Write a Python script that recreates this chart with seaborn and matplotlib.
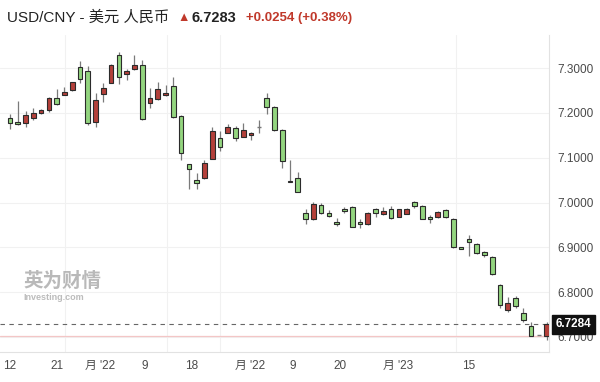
import numpy as np
import pandas as pd
import matplotlib
matplotlib.use("Agg")
import matplotlib.pyplot as plt
import seaborn as sns

# daily OHLC (USD/CNY)
opens = [7.1893, 7.1804, 7.1768, 7.1879, 7.1991, 7.2065, 7.2339, 7.2406, 7.2504, 7.3018,
         7.2942, 7.1804, 7.2422, 7.2674, 7.3292, 7.2862, 7.2973, 7.3076, 7.2228, 7.2310,
         7.2406, 7.2600, 7.1931, 7.0853, 7.0496, 7.0540, 7.0971, 7.1446, 7.1551, 7.1663,
         7.1469, 7.1513, 7.1679, 7.2333, 7.2138, 7.1618, 7.0487, 7.0554, 6.9772, 6.9638,
         6.9951, 6.9759, 6.9571, 6.9862, 6.9906, 6.9558, 6.9513, 6.9855, 6.9737, 6.9855,
         6.9683, 6.9750, 7.0011, 6.9929, 6.9670, 6.9670, 6.9839, 6.9625, 6.9013, 6.9179,
         6.9067, 6.8888, 6.8790, 6.8158, 6.7600, 6.7862, 6.7540, 6.7250, 6.7042, 6.7029]
closes = [7.1768, 7.1752, 7.1946, 7.1998, 7.2058, 7.2339, 7.2192, 7.2460, 7.2683, 7.2750,
          7.1768, 7.2288, 7.2556, 7.3076, 7.2795, 7.2942, 7.3062, 7.1857, 7.2326, 7.2533,
          7.2451, 7.1902, 7.1112, 7.0748, 7.0442, 7.0882, 7.1596, 7.1246, 7.1679, 7.1446,
          7.1618, 7.1551, 7.1679, 7.2138, 7.1618, 7.0926, 7.0451, 7.0228, 6.9632, 6.9967,
          6.9759, 6.9699, 6.9520, 6.9810, 6.9460, 6.9513, 6.9759, 6.9759, 6.9804, 6.9647,
          6.9848, 6.9862, 6.9922, 6.9638, 6.9625, 6.9788, 6.9670, 6.9000, 6.8973, 6.9112,
          6.8879, 6.8828, 6.8404, 6.7712, 6.7763, 6.7690, 6.7377, 6.7020, 6.7042, 6.7283]
highs = [7.1969, 7.2266, 7.2049, 7.2103, 7.2080, 7.2362, 7.2533, 7.2585, 7.2696, 7.3158,
         7.3047, 7.2438, 7.2674, 7.3092, 7.3353, 7.2980, 7.3292, 7.3181, 7.2549, 7.2696,
         7.2623, 7.2795, 7.1946, 7.0853, 7.0652, 7.0949, 7.1679, 7.1596, 7.1752, 7.1708,
         7.1768, 7.1580, 7.1848, 7.2451, 7.2154, 7.1634, 7.0949, 7.0688, 6.9848, 7.0018,
         6.9982, 6.9833, 6.9647, 6.9906, 6.9922, 6.9625, 6.9795, 6.9884, 6.9906, 6.9922,
         6.9862, 6.9877, 7.0033, 6.9944, 6.9721, 6.9810, 6.9855, 6.9647, 6.9013, 6.9275,
         6.9089, 6.8924, 6.8806, 6.8174, 6.7884, 6.7906, 6.7638, 6.7339, 6.7042, 6.7339]
lows = [7.1634, 7.1730, 7.1679, 7.1842, 7.1969, 7.2013, 7.2176, 7.2393, 7.2489, 7.2674,
        7.1737, 7.1692, 7.2250, 7.2661, 7.2638, 7.2734, 7.2958, 7.1842, 7.2103, 7.2288,
        7.2384, 7.1879, 7.0949, 7.0295, 7.0295, 7.0525, 7.0964, 7.1156, 7.1545, 7.1379,
        7.1455, 7.1388, 7.1545, 7.1975, 7.1603, 7.0763, 7.0451, 7.0228, 6.9513, 6.9609,
        6.9737, 6.9670, 6.9475, 6.9759, 6.9453, 6.9424, 6.9498, 6.9683, 6.9721, 6.9625,
        6.9670, 6.9737, 6.9871, 6.9625, 6.9542, 6.9654, 6.9654, 6.8978, 6.8973, 6.8806,
        6.8850, 6.8777, 6.8382, 6.7638, 6.7563, 6.7652, 6.7339, 6.7020, 6.7042, 6.6931]

x_tick_pos = [0, 6.0, 11.57, 17.27, 23.36, 30.86, 36.35, 42.43, 49.92, 59.0]
x_tick_labels = ["12", "21", "月 '22", "9", "18", "月 '22", "9", "20", "月 '23", "15"]
x_grid_pos = [7.07, 20.15, 27.0, 57.4]
y_ticks = [6.7, 6.8, 6.9, 7.0, 7.1, 7.2, 7.3]

last_quote = 6.7284
prev_close = 6.7029
title = "USD/CNY - 美元 人民币"
price_txt = "6.7283"
change_txt = "+0.0254 (+0.38%)"

UP = "#b4403a"
DOWN = "#93d57f"
EDGE = "#2b2b2b"

sns.set_style("white")
plt.rcParams["font.family"] = ["Liberation Sans", "Noto Sans CJK SC", "DejaVu Sans"]

df = pd.DataFrame({"open": opens, "high": highs, "low": lows, "close": closes})
df["i"] = np.arange(len(df))
df["lo"] = df[["open", "close"]].min(axis=1)
df["h"] = (df["close"] - df["open"]).abs().clip(lower=0.0014)

fig = plt.figure(figsize=(6, 3.82), dpi=100)
ax = fig.add_axes([0, 30 / 382, 549 / 600, 317 / 382])

# grid
for y in y_ticks:
    ax.axhline(y, color="#f1f1f1", lw=0.8, zorder=0)
for x in x_grid_pos:
    ax.axvline(x, color="#f1f1f1", lw=0.8, zorder=0)

ax.axhline(prev_close, color="#f3c6c6", lw=0.9, zorder=1)
ax.axhline(last_quote, color="#666666", lw=0.8, ls=(0, (4, 4)), zorder=1)

ax.vlines(df["i"], df["low"], df["high"], color="#7a7a7a", lw=0.9, zorder=2)
up = df[df["close"] > df["open"]]
down = df[df["close"] < df["open"]]
flat = df[df["close"] == df["open"]]
ax.bar(up["i"], up["h"], bottom=up["lo"], width=0.6, color=UP,
       edgecolor=EDGE, linewidth=0.8, zorder=3)
ax.bar(down["i"], down["h"], bottom=down["lo"], width=0.6, color=DOWN,
       edgecolor=EDGE, linewidth=0.8, zorder=3)
ax.hlines(flat["open"], flat["i"] - 0.3, flat["i"] + 0.3, color="#777777", lw=1, zorder=3)

ax.set_xlim(-1.29, 69.3)
ax.set_ylim(6.6663, 7.374)
ax.yaxis.tick_right()
ax.set_yticks(y_ticks)
ax.set_yticklabels([f"{v:.4f}" for v in y_ticks])
ax.set_xticks(x_tick_pos)
ax.set_xticklabels(x_tick_labels)
ax.tick_params(axis="both", length=0, labelsize=8.5, colors="#4a4a4a")
ax.tick_params(axis="y", pad=6)
ax.tick_params(axis="x", pad=6)
for s in ["top", "left"]:
    ax.spines[s].set_visible(False)
ax.spines["right"].set_color("#e2e2e2")
ax.spines["bottom"].set_color("#e2e2e2")
ax.spines["right"].set_linewidth(0.8)
ax.spines["bottom"].set_linewidth(0.8)

# last price tag on the axis
ax.text(1.012, last_quote, f"{last_quote:.4f}", transform=ax.get_yaxis_transform(),
        ha="left", va="center", color="white", fontsize=8.5, fontweight="bold",
        bbox=dict(boxstyle="square,pad=0.3", fc="#111111", ec="#111111"), zorder=5)

# watermark
fig.text(23 / 600, 1 - 281 / 382, "英为财情", fontsize=14, fontweight="bold",
         color="#a8a8a8", va="center", ha="left", alpha=0.8)
fig.text(23 / 600, 1 - 297 / 382, "Investing.com", fontsize=6.5, fontweight="bold",
         color="#ababab", va="center", ha="left", alpha=0.8)

# header
fig.text(7 / 600, 1 - 18 / 382, title, fontsize=11, color="#222222", va="center")
fig.text(177 / 600, 1 - 18 / 382, "▲", fontsize=9, color="#c0392b", va="center")
fig.text(192 / 600, 1 - 18 / 382, price_txt, fontsize=10.5, fontweight="bold",
         color="#222222", va="center")
fig.text(246 / 600, 1 - 18 / 382, change_txt, fontsize=9.5, fontweight="bold",
         color="#c0392b", va="center")

fig.savefig("out.png", dpi=100)
